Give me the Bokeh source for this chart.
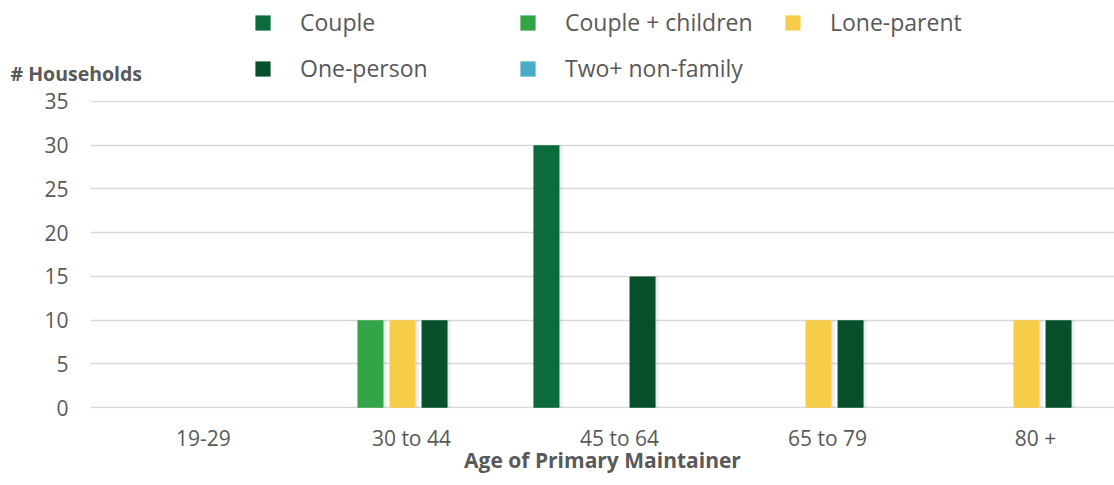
from bokeh.plotting import figure
from bokeh.layouts import column
from bokeh.models import ColumnDataSource, Range1d, FixedTicker, Legend, LegendItem, Label
from bokeh.transform import dodge
from bokeh.embed import file_html
from bokeh.resources import INLINE

# ---- data ----
categories = ["19-29", "30 to 44", "45 to 64", "65 to 79", "80 +"]
couple = [0, 0, 30, 0, 0]
couple_children = [0, 10, 0, 0, 0]
lone_parent = [0, 10, 0, 10, 10]
one_person = [0, 10, 15, 10, 10]
two_plus_nonfamily = [0, 0, 0, 0, 0]
series_names = ["Couple", "Couple + children", "Lone-parent", "One-person", "Two+ non-family"]
series_keys = ["couple", "couple_children", "lone_parent", "one_person", "two_plus_nonfamily"]
series_colors = ["#0b6b3d", "#33a546", "#f6cc48", "#07502b", "#4bacc6"]
y_ticks = [0, 5, 10, 15, 20, 25, 30, 35]
y_title = "# Households"
x_title = "Age of Primary Maintainer"

FONT = "Open Sans"
TXT = "#595959"

src = ColumnDataSource(dict(
    idx=list(range(len(categories))),
    couple=couple,
    couple_children=couple_children,
    lone_parent=lone_parent,
    one_person=one_person,
    two_plus_nonfamily=two_plus_nonfamily,
))

# ---- main chart ----
# a hair of padding on the value range keeps the 0 and 35 grid lines fully visible
p = figure(width=1114, height=397,
           x_range=Range1d(-0.5, 4.423), y_range=Range1d(-0.1, 35.1),
           output_backend="svg", toolbar_location=None,
           min_border_left=90, min_border_right=0,
           min_border_top=12, min_border_bottom=77)
p.frame_align = False
p.outline_line_color = None
p.xgrid.visible = False
p.ygrid.grid_line_color = "#d9d9d9"
p.ygrid.grid_line_width = 1.5

p.yaxis.ticker = FixedTicker(ticks=y_ticks)
p.yaxis.axis_line_color = None
p.yaxis.major_tick_line_color = None
p.yaxis.minor_tick_line_color = None
p.yaxis.major_tick_out = 0
p.yaxis.major_tick_in = 0
p.yaxis.major_label_standoff = 22
p.yaxis.major_label_text_font = FONT
p.yaxis.major_label_text_font_size = "21px"
p.yaxis.major_label_text_color = TXT

# category labels sit slightly right of the group centre, as in the original
label_shift = 0.043
x_ticks = [i + label_shift for i in range(len(categories))]
p.xaxis.ticker = FixedTicker(ticks=x_ticks)
p.xaxis.major_label_overrides = {t: c for t, c in zip(x_ticks, categories)}
p.xaxis.axis_line_color = None
p.xaxis.major_tick_line_color = None
p.xaxis.minor_tick_line_color = None
p.xaxis.major_tick_out = 0
p.xaxis.major_tick_in = 0
p.xaxis.major_label_standoff = 15
p.xaxis.major_label_text_font = FONT
p.xaxis.major_label_text_font_size = "21px"
p.xaxis.major_label_text_color = TXT
p.xaxis.axis_label = x_title
p.xaxis.axis_label_standoff = -9
p.xaxis.axis_label_text_font = FONT
p.xaxis.axis_label_text_font_size = "21px"
p.xaxis.axis_label_text_font_style = "bold"
p.xaxis.axis_label_text_color = TXT

slot = 0.154
bar_w = 0.125
for k, (key, color) in enumerate(zip(series_keys, series_colors)):
    off = (k - 2) * slot
    # soft drop shadow
    p.vbar(x=dodge("idx", off + 0.008, range=p.x_range), top=key, width=bar_w + 0.014,
           source=src, fill_color="#000000", fill_alpha=0.07, line_color=None)
    p.vbar(x=dodge("idx", off, range=p.x_range), top=key, width=bar_w,
           source=src, fill_color=color, line_color=None)

# ---- header (legend + y title) ----
# its ranges lie away from the data, so the proxy bars below stay off-canvas
h = figure(width=1114, height=88, x_range=Range1d(-3, -2), y_range=Range1d(0, 1),
           output_backend="svg", toolbar_location=None,
           min_border_left=0, min_border_right=0, min_border_top=0, min_border_bottom=0,
           x_axis_location=None, y_axis_location=None)
h.frame_align = False
h.outline_line_color = None
h.xgrid.visible = False
h.ygrid.visible = False

proxies = []
for key, color in zip(series_keys, series_colors):
    proxies.append(h.vbar(x="idx", top=key, width=bar_w, source=src,
                          fill_color=color, line_color=None))

items = [LegendItem(label=n, renderers=[r]) for n, r in zip(series_names, proxies)]
leg = Legend(items=items, orientation="horizontal", ncols=3, location=(253, 4),
             glyph_width=19, glyph_height=19, label_standoff=28,
             label_width=204, label_height=31, spacing=14, padding=0, margin=0,
             border_line_color=None, background_fill_alpha=0,
             label_text_font=FONT, label_text_font_size="23px",
             label_text_color=TXT)
h.add_layout(leg)

lab = Label(x=10, y=15, x_units="screen", y_units="screen", text=y_title,
            text_font=FONT, text_font_size="19.5px", text_font_style="bold",
            text_color=TXT, text_baseline="middle", text_align="left")
h.add_layout(lab)

layout = column(h, p, spacing=0)
open("out.html", "w").write(file_html(layout, INLINE))
